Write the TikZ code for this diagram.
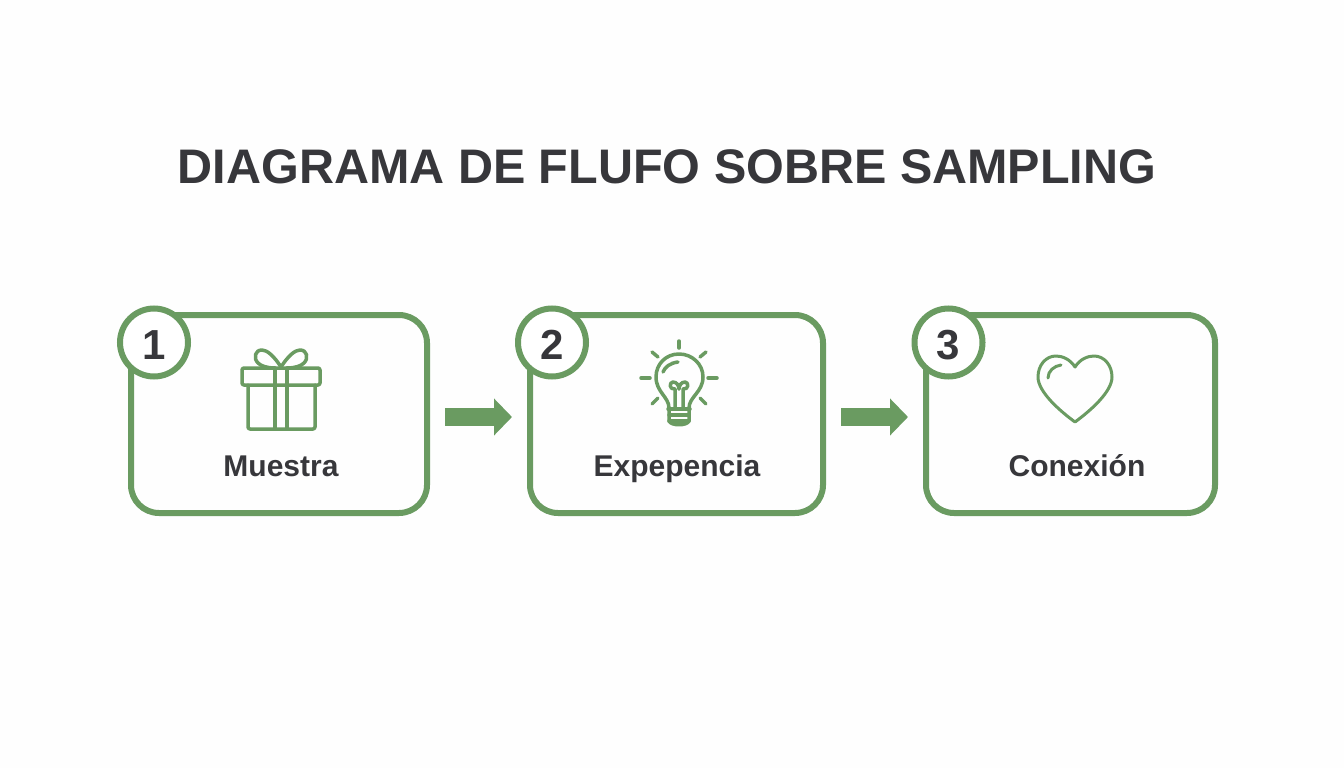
\documentclass[tikz,border=0pt]{standalone}
\usepackage{fontspec}
\setmainfont{Liberation Sans}
\usetikzlibrary{arrows.meta}

\definecolor{leaf}{HTML}{6A9B61}
\definecolor{ink}{HTML}{37373B}

\tikzset{
	stepbox/.style={draw=leaf, line width=6pt, rounded corners=28pt, minimum height=198pt, inner sep=0pt, outer sep=0pt},
	badge/.style={circle, draw=leaf, line width=6pt, fill=white, minimum size=68pt, inner sep=0pt, outer sep=0pt, text=ink, text height=34pt, text depth=0pt, font=\fontsize{42}{42}\selectfont\bfseries},
	caption/.style={anchor=base, text=ink, inner sep=0pt, font=\fontsize{30}{30}\selectfont\bfseries},
	flow/.style={leaf, line width=18pt, -{Triangle[length=18pt,width=36pt]}, shorten >=18pt, shorten <=18pt},
	icon/.style={draw=leaf, line width=3.5pt, line join=round, line cap=round},
	thinicon/.style={icon, line width=3pt}
}

\begin{document}
\begin{tikzpicture}[x=1pt,y=-1pt]

	\fill[white!99.5!black] (0,0) rectangle (1344,768);
	\useasboundingbox (0,0) rectangle (1344,768);

	% ---- title

	\node[text=ink, inner sep=0pt, font=\fontsize{48.5}{48.5}\selectfont\bfseries] (title) at (667,167) {DIAGRAMA DE FLUFO SOBRE SAMPLING};

	% ---- boxes

	\node[stepbox, minimum width=296pt] (box1) at (279,414) {};
	\node[stepbox, minimum width=293pt] (box2) at (676.5,414) {};
	\node[stepbox, minimum width=289pt] (box3) at (1070.5,414) {};

	% ---- arrows

	\draw[flow] ([yshift=-3pt]box1.east) -- ([yshift=-3pt]box2.west);
	\draw[flow] ([yshift=-3pt]box2.east) -- ([yshift=-3pt]box3.west);

	% ---- badges

	\node[badge] (num1) at (154,342.5) {1};
	\node[badge] (num2) at (552,342.5) {2};
	\node[badge] (num3) at (948.5,342.5) {3};

	% ---- captions

	\node[caption] (cap1) at (281,476.5) {Muestra};
	\node[caption] (cap2) at (677,476.5) {Expepencia};
	\node[caption] (cap3) at (1077,476.5) {Conexión};

	% ---- gift

	\draw[icon, rounded corners=2pt] (242,368) rectangle (320,385);
	\draw[icon, rounded corners=2pt] (248,385) -- (248,429) -- (315,429) -- (315,385);
	\draw[icon] (275,368) -- (275,429);
	\draw[icon] (287,368) -- (287,429);
	\draw[icon] (281,367) .. controls (274,356) and (267,350) .. (262,350) .. controls (255,350) and (253,358) .. (258,363) .. controls (261,366) and (267,368) .. (275,368);
	\draw[icon] (281,367) .. controls (288,356) and (295,350) .. (300,350) .. controls (307,350) and (309,358) .. (304,363) .. controls (301,366) and (295,368) .. (287,368);

	% ---- bulb

	\draw[icon] (669,408) .. controls (669,397) and (656,392) .. (656,377) .. controls (656,364) and (666,354) .. (679,354) .. controls (692,354) and (703,364) .. (703,377) .. controls (703,392) and (689,397) .. (689,408);
	\draw[icon] (663,372) .. controls (665,367) and (670,363) .. (678,362);
	\draw[icon] (675,408) -- (675,389) .. controls (669,390) and (669,382) .. (673,382) .. controls (677,382) and (679,386) .. (679,389);
	\draw[icon] (683,408) -- (683,389) .. controls (689,390) and (689,382) .. (685,382) .. controls (681,382) and (679,386) .. (679,389);
	\draw[icon] (668,409) -- (690,409);
	\draw[icon] (669,415) -- (689,415);
	\draw[icon] (669,409) -- (669,421) .. controls (671,426) and (687,426) .. (689,421) -- (689,409);
	\draw[icon] (669,421) -- (689,421);

	% ---- rays

	\foreach \xa/\ya/\xb/\yb in {679/341/679/348, 652/352/658/357, 706/352/700/357, 641/378/650/378, 708/378/717/378, 652/404/658/398, 706/404/700/398} {
		\draw[icon] (\xa,\ya) -- (\xb,\yb);
	}

	% ---- heart

	\draw[thinicon] (1075,367) .. controls (1070,359) and (1062,356) .. (1056,356) .. controls (1046,356) and (1038,365) .. (1038,377) .. controls (1038,392) and (1060,411) .. (1075,422) .. controls (1090,411) and (1112,392) .. (1112,377) .. controls (1112,365) and (1104,356) .. (1094,356) .. controls (1088,356) and (1080,359) .. (1075,367) -- cycle;
	\draw[thinicon] (1048,378) .. controls (1048,371) and (1054,366) .. (1061,365);

\end{tikzpicture}
\end{document}
